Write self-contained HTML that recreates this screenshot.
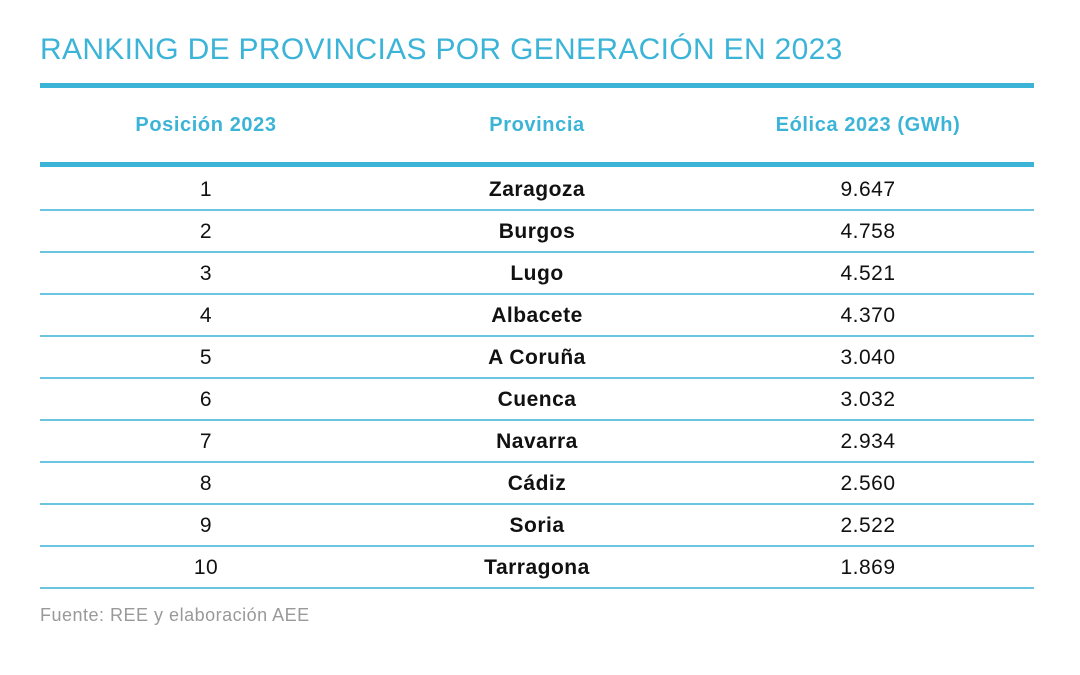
<!DOCTYPE html>
<html><head><meta charset="utf-8"><style>
body{margin:0;width:1080px;height:675px;background:#fff;font-family:"Liberation Sans",sans-serif;position:relative;overflow:hidden}
.t{position:absolute;left:40px;top:33px;font-size:30px;color:#3cb4d8;letter-spacing:0.32px;white-space:nowrap}
.bar{position:absolute;left:40px;width:994px;background:#3cb4d8}
.h{position:absolute;top:114px;font-size:20px;font-weight:bold;color:#3cb4d8;letter-spacing:0.6px;transform:translateX(-50%);white-space:nowrap}
.r{position:absolute;font-size:21px;color:#111;letter-spacing:0.5px;transform:translateX(-50%);white-space:nowrap}
.b{font-weight:bold}
.f{position:absolute;left:40px;top:605px;font-size:18px;letter-spacing:0.5px;color:#999}
</style></head><body>
<div class="t">RANKING DE PROVINCIAS POR GENERACIÓN EN 2023</div>
<div class="bar" style="top:83px;height:5px"></div>
<div class="h" style="left:206px">Posición 2023</div>
<div class="h" style="left:537px">Provincia</div>
<div class="h" style="left:868px">Eólica 2023 (GWh)</div>
<div class="bar" style="top:162px;height:5px"></div>
<div id="rows"></div>
<div class="f">Fuente: REE y elaboración AEE</div>
<script>
var d=[["1","Zaragoza","9.647"],["2","Burgos","4.758"],["3","Lugo","4.521"],["4","Albacete","4.370"],["5","A Coruña","3.040"],["6","Cuenca","3.032"],["7","Navarra","2.934"],["8","Cádiz","2.560"],["9","Soria","2.522"],["10","Tarragona","1.869"]];
var h="";d.forEach(function(r,i){var y=178+i*42;
h+='<div class="r" style="left:206px;top:'+y+'px">'+r[0]+'</div><div class="r b" style="left:537px;top:'+y+'px">'+r[1]+'</div><div class="r" style="left:868px;top:'+y+'px">'+r[2]+'</div><div class="bar" style="top:'+(209+i*42)+'px;height:2px;background:#6cc5e0"></div>';});
document.getElementById("rows").innerHTML=h;
</script>
</body></html>
